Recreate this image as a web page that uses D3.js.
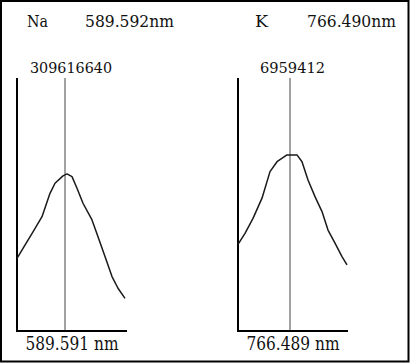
<!DOCTYPE html>
<html>
<head>
<meta charset="utf-8">
<script src="https://cdn.jsdelivr.net/npm/d3@7"></script>
<style>
  body { margin: 0; background: #fff; }
  text { font-family: "DejaVu Serif", "Liberation Serif", serif; fill: #111; }
</style>
</head>
<body>
<div id="chart"></div>
<script>
// scan position (channel 0..110) and intensity (% of axis height)
const naPos = [0, 6, 16, 25, 33, 38, 46, 50, 55, 60, 66, 75, 81, 88, 95, 101, 108];
const naVal = [28.7, 32.7, 39.2, 45.2, 54.4, 58.4, 61.3, 62.1, 61.0, 56.4, 50.5, 43.9, 37.3, 29.4, 21.5, 16.9, 12.9];
const kPos = [0, 7, 15, 24, 32, 39, 49, 59, 64, 70, 77, 84, 90, 97, 104, 109];
const kVal = [34.2, 38.6, 44.5, 52.5, 63.0, 66.9, 69.6, 69.6, 66.9, 59.7, 53.1, 47.2, 39.9, 34.7, 29.4, 26.1];

const panels = [
  { elem: "Na", line: "589.592nm", count: "309616640", base: "589.591 nm", pos: naPos, val: naVal, center: 48,
    x0: 17, countX: 30, countW: 82, lineX: 85, lineW: 89, elemX: 27, elemW: 21 },
  { elem: "K", line: "766.490nm", count: "6959412", base: "766.489 nm", pos: kPos, val: kVal, center: 52,
    x0: 238, countX: 260, countW: 65, lineX: 307, lineW: 89, elemX: 255, elemW: 13 },
];

const W = 410, H = 363;
const PLOT_W = 110, TOP = 78, BOTTOM = 331;

const svg = d3.select("#chart").append("svg")
  .attr("width", W)
  .attr("height", H)
  .attr("viewBox", [0, 0, W, H]);

// outer frame
svg.append("rect")
  .attr("x", 1).attr("y", 1)
  .attr("width", W - 2.5).attr("height", H - 2.5)
  .attr("fill", "none")
  .attr("stroke", "#000")
  .attr("stroke-width", 2);

const y = d3.scaleLinear().domain([0, 100]).range([BOTTOM, TOP]);

function fitText(sel, w) {
  return sel.attr("textLength", w).attr("lengthAdjust", "spacingAndGlyphs");
}

panels.forEach(p => {
  const x = d3.scaleLinear().domain([0, 110]).range([p.x0, p.x0 + PLOT_W]);
  const g = svg.append("g");

  // header
  fitText(g.append("text").attr("x", p.elemX).attr("y", 27).attr("font-size", "16.5px").text(p.elem), p.elemW);
  fitText(g.append("text").attr("x", p.lineX).attr("y", 27).attr("font-size", "16.5px").text(p.line), p.lineW);
  fitText(g.append("text").attr("x", p.countX).attr("y", 73).attr("font-size", "15px").text(p.count), p.countW);

  // center marker
  g.append("line")
    .attr("x1", x(p.center)).attr("x2", x(p.center))
    .attr("y1", y(100)).attr("y2", y(0))
    .attr("stroke", "#444").attr("stroke-width", 1);

  // axes
  g.append("line")
    .attr("x1", x(0)).attr("x2", x(0))
    .attr("y1", y(100)).attr("y2", y(0) + 1)
    .attr("stroke", "#000").attr("stroke-width", 2);
  g.append("line")
    .attr("x1", x(0) - 1).attr("x2", x(110))
    .attr("y1", y(0)).attr("y2", y(0))
    .attr("stroke", "#000").attr("stroke-width", 2);

  // profile
  const line = d3.line().x((d, i) => x(p.pos[i])).y(d => y(d));
  g.append("path")
    .datum(p.val)
    .attr("d", line)
    .attr("fill", "none")
    .attr("stroke", "#1a1a1a")
    .attr("stroke-width", 1.5)
    .attr("stroke-linejoin", "round");

  fitText(g.append("text")
    .attr("x", x(55)).attr("y", 350)
    .attr("text-anchor", "middle")
    .attr("font-size", "19px")
    .text(p.base), 93);
});
</script>
</body>
</html>
